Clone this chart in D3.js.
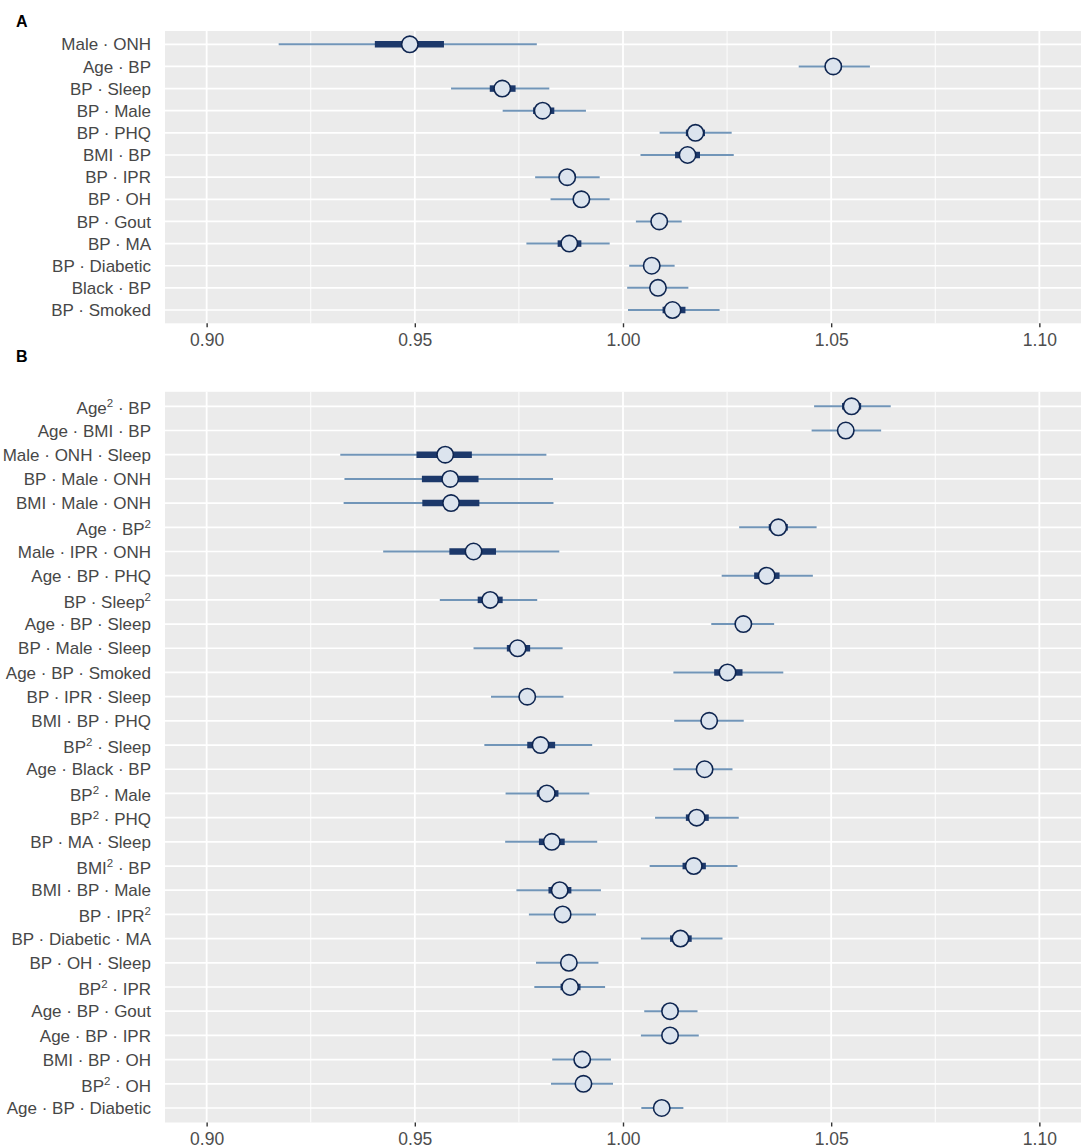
<!DOCTYPE html>
<html><head><meta charset="utf-8">
<script src="https://cdn.jsdelivr.net/npm/d3@7"></script>
<style>body{margin:0;background:#fff} svg{display:block}</style>
</head><body><svg id="chart" width="1084" height="1148"></svg>
<script>
// ---- Panel A data ----
const labelsA = ["Male · ONH","Age · BP","BP · Sleep","BP · Male","BP · PHQ","BMI · BP","BP · IPR","BP · OH","BP · Gout","BP · MA","BP · Diabetic","Black · BP","BP · Smoked"];
const estA      = [0.9488,1.0505,0.9710,0.9807,1.0174,1.0155,0.9866,0.9900,1.0087,0.9871,1.0069,1.0084,1.0119];
const lowA      = [0.9173,1.0422,0.9587,0.9711,1.0088,1.0042,0.9789,0.9826,1.0031,0.9768,1.0015,1.0010,1.0012];
const highA     = [0.9793,1.0593,0.9823,0.9911,1.0261,1.0266,0.9944,0.9968,1.0141,0.9968,1.0124,1.0157,1.0232];
const innerLowA = [0.9404,1.0487,0.9680,0.9784,1.0151,1.0125,0.9852,0.9887,1.0075,0.9843,1.0057,1.0072,1.0095];
const innerHighA= [0.9570,1.0525,0.9742,0.9835,1.0197,1.0185,0.9880,0.9913,1.0099,0.9900,1.0081,1.0096,1.0150];

// ---- Panel B data ----
const labelsB = ["Age^2 · BP","Age · BMI · BP","Male · ONH · Sleep","BP · Male · ONH","BMI · Male · ONH","Age · BP^2","Male · IPR · ONH","Age · BP · PHQ","BP · Sleep^2","Age · BP · Sleep","BP · Male · Sleep","Age · BP · Smoked","BP · IPR · Sleep","BMI · BP · PHQ","BP^2 · Sleep","Age · Black · BP","BP^2 · Male","BP^2 · PHQ","BP · MA · Sleep","BMI^2 · BP","BMI · BP · Male","BP · IPR^2","BP · Diabetic · MA","BP · OH · Sleep","BP^2 · IPR","Age · BP · Gout","Age · BP · IPR","BMI · BP · OH","BP^2 · OH","Age · BP · Diabetic"];
const estB      = [1.0549,1.0535,0.9573,0.9585,0.9587,1.0373,0.9641,1.0345,0.9681,1.0289,0.9747,1.0251,0.9770,1.0207,0.9802,1.0196,0.9817,1.0177,0.9829,1.0170,0.9848,0.9855,1.0138,0.9870,0.9873,1.0113,1.0113,0.9902,0.9905,1.0093];
const lowB      = [1.0459,1.0453,0.9321,0.9331,0.9329,1.0279,0.9424,1.0237,0.9560,1.0212,0.9641,1.0121,0.9683,1.0123,0.9667,1.0121,0.9718,1.0077,0.9717,1.0064,0.9744,0.9774,1.0043,0.9791,0.9787,1.0051,1.0043,0.9830,0.9827,1.0044];
const highB     = [1.0643,1.0620,0.9816,0.9832,0.9833,1.0465,0.9847,1.0456,0.9794,1.0363,0.9855,1.0385,0.9857,1.0290,0.9926,1.0263,0.9919,1.0278,0.9938,1.0275,0.9947,0.9935,1.0239,0.9941,0.9957,1.0179,1.0182,0.9971,0.9976,1.0145];
const innerLowB = [1.0526,1.0520,0.9504,0.9517,0.9518,1.0350,0.9583,1.0315,0.9651,1.0277,0.9721,1.0219,0.9758,1.0195,0.9770,1.0184,0.9793,1.0151,0.9798,1.0143,0.9821,0.9843,1.0113,0.9858,0.9850,1.0101,1.0101,0.9890,0.9893,1.0081];
const innerHighB= [1.0572,1.0550,0.9637,0.9653,0.9655,1.0396,0.9695,1.0376,0.9711,1.0301,0.9777,1.0287,0.9782,1.0219,0.9837,1.0208,0.9845,1.0206,0.9860,1.0199,0.9876,0.9867,1.0165,0.9882,0.9898,1.0125,1.0125,0.9914,0.9917,1.0105];

const xDomain = [0.89, 1.11];
const xTicks = [0.90, 0.95, 1.00, 1.05, 1.10];
const xMinor = [0.925, 0.975, 1.025, 1.075];
const xTickLabels = ["0.90","0.95","1.00","1.05","1.10"];

const svg = d3.select("#chart");
const FONT = "'Liberation Sans', Arial, Helvetica, sans-serif";

function drawPanel(cfg) {
  const {labels, est, low, high, innerLow, innerHigh, top, bottom, tag, tagY} = cfg;
  const left = 165, right = 1081;
  const x = d3.scaleLinear().domain(xDomain).range([left, right]);
  const y = d3.scalePoint().domain(labels).range([top, bottom]).padding(0.6);
  const g = svg.append("g");

  g.append("rect").attr("x", left).attr("y", top).attr("width", right - left).attr("height", bottom - top).attr("fill", "#EBEBEB");
  g.selectAll(".minor").data(xMinor).join("line")
    .attr("x1", d => x(d)).attr("x2", d => x(d)).attr("y1", top).attr("y2", bottom)
    .attr("stroke", "#fff").attr("stroke-width", 0.9);
  g.selectAll(".major").data(xTicks).join("line")
    .attr("x1", d => x(d)).attr("x2", d => x(d)).attr("y1", top).attr("y2", bottom)
    .attr("stroke", "#fff").attr("stroke-width", 1.8);
  g.selectAll(".hgrid").data(labels).join("line")
    .attr("x1", left).attr("x2", right).attr("y1", d => y(d)).attr("y2", d => y(d))
    .attr("stroke", "#fff").attr("stroke-width", 1.7);

  // x axis
  const ax = g.append("g").attr("transform", `translate(0,${bottom})`)
    .call(d3.axisBottom(x).tickValues(xTicks).tickFormat((d, i) => xTickLabels[i]).tickSize(4).tickPadding(6));
  ax.select(".domain").remove();
  ax.selectAll(".tick line").attr("stroke", "#333").attr("stroke-width", 1.4);
  ax.selectAll(".tick text").attr("fill", "#4D4D4D").style("font-family", FONT).style("font-size", "17.5px");

  // y labels
  const idx = d3.range(labels.length);
  const lab = g.selectAll(".ylab").data(idx).join("text")
    .attr("x", left - 14).attr("y", i => y(labels[i]) + (labels[i].includes("^2") ? 7.8 : 6.2))
    .attr("text-anchor", "end").attr("fill", "#474747")
    .style("font-family", FONT).style("font-size", "17px");
  lab.each(function(i) {
    const t = d3.select(this);
    const parts = labels[i].split("^2");
    parts.forEach((p, k) => {
      if (p.length) {
        const ts = t.append("tspan").text(p);
        if (k > 0) ts.attr("dy", 6.8);
      }
      if (k < parts.length - 1) {
        t.append("tspan").text("2").attr("dy", -6.8).style("font-size", "11.5px");
      }
    });
  });

  // marks
  g.selectAll(".thin").data(idx).join("line")
    .attr("x1", i => x(low[i])).attr("x2", i => x(high[i]))
    .attr("y1", i => y(labels[i])).attr("y2", i => y(labels[i]))
    .attr("stroke", "#7195B8").attr("stroke-width", 2);
  g.selectAll(".thick").data(idx).join("line")
    .attr("x1", i => x(innerLow[i])).attr("x2", i => x(innerHigh[i]))
    .attr("y1", i => y(labels[i])).attr("y2", i => y(labels[i]))
    .attr("stroke", "#1C386A").attr("stroke-width", 6.5);
  g.selectAll(".pt").data(idx).join("circle")
    .attr("cx", i => x(est[i])).attr("cy", i => y(labels[i])).attr("r", 8.2)
    .attr("fill", "#DCE4EE").attr("stroke", "#0E2550").attr("stroke-width", 1.6);

  svg.append("text").attr("x", 16).attr("y", tagY).text(tag)
    .style("font-family", FONT).style("font-size", "16px").style("font-weight", "bold").attr("fill", "#000");
}

drawPanel({labels: labelsA, est: estA, low: lowA, high: highA, innerLow: innerLowA, innerHigh: innerHighA,
  top: 31, bottom: 323.3, tag: "A", tagY: 27});
drawPanel({labels: labelsB, est: estB, low: lowB, high: highB, innerLow: innerLowB, innerHigh: innerHighB,
  top: 391.8, bottom: 1122.5, tag: "B", tagY: 362});
</script></body></html>
